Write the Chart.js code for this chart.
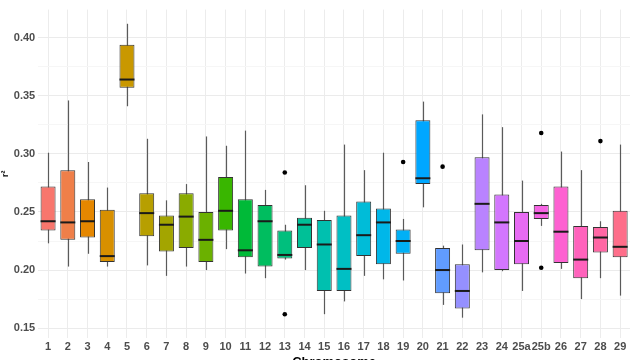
<!DOCTYPE html>
<html lang="en">
<head>
<meta charset="UTF-8">
<title>r2 by chromosome</title>
<script src="https://cdn.jsdelivr.net/npm/chart.js"></script>
<style>
  html, body { margin: 0; padding: 0; background: #fff; overflow: hidden; }
  #wrap { width: 634px; height: 369px; }
</style>
</head>
<body>
<div id="wrap"><canvas id="box"></canvas></div>
<script>
const chromosomes = ['1','2','3','4','5','6','7','8','9','10','11','12','13','14','15','16','17','18','19','20','21','22','23','24','25a','25b','26','27','28','29'];
const whiskerLow  = [0.223,0.203,0.214,0.203,0.341,0.204,0.195,0.203,0.200,0.218,0.197,0.193,0.209,0.200,0.162,0.173,0.195,0.192,0.191,0.254,0.170,0.159,0.198,0.199,0.182,0.238,0.201,0.175,0.193,0.178];
const q1          = [0.234,0.226,0.228,0.207,0.357,0.229,0.216,0.219,0.207,0.234,0.211,0.203,0.210,0.219,0.182,0.182,0.212,0.205,0.214,0.274,0.180,0.167,0.217,0.200,0.205,0.244,0.206,0.193,0.215,0.211];
const median      = [0.242,0.241,0.242,0.212,0.364,0.249,0.239,0.246,0.226,0.251,0.217,0.242,0.213,0.239,0.222,0.201,0.230,0.241,0.225,0.279,0.200,0.182,0.257,0.241,0.225,0.249,0.233,0.209,0.228,0.220];
const q3          = [0.272,0.286,0.261,0.252,0.394,0.266,0.247,0.266,0.250,0.280,0.261,0.256,0.234,0.245,0.243,0.247,0.259,0.253,0.235,0.329,0.219,0.205,0.297,0.265,0.250,0.256,0.272,0.238,0.237,0.251];
const whiskerHigh = [0.301,0.346,0.293,0.271,0.412,0.313,0.260,0.274,0.315,0.307,0.320,0.269,0.239,0.273,0.251,0.308,0.286,0.301,0.244,0.345,0.221,0.222,0.334,0.323,0.277,0.257,0.302,0.286,0.242,0.308];
const outliers = [
  { x: '13', y: 0.284 }, { x: '13', y: 0.162 },
  { x: '19', y: 0.293 }, { x: '21', y: 0.289 },
  { x: '25b', y: 0.318 }, { x: '25b', y: 0.202 },
  { x: '28', y: 0.311 }
];
const yTicks = [0.15, 0.175, 0.20, 0.225, 0.25, 0.275, 0.30, 0.325, 0.35, 0.375, 0.40];

// ggplot2 default hue palette
function hcl(h, c, l) {
  const hr = h * Math.PI / 180;
  const u = c * Math.cos(hr), v = c * Math.sin(hr);
  const Y = l > 8 ? Math.pow((l + 16) / 116, 3) : l / 903.3;
  const un = 0.19784, vn = 0.46834;
  const up = u / (13 * l) + un, vp = v / (13 * l) + vn;
  const X = Y * 9 * up / (4 * vp);
  const Z = Y * (12 - 3 * up - 20 * vp) / (4 * vp);
  const lin = [
    3.2406 * X - 1.5372 * Y - 0.4986 * Z,
    -0.9689 * X + 1.8758 * Y + 0.0415 * Z,
    0.0557 * X - 0.2040 * Y + 1.0570 * Z
  ];
  const rgb = lin.map(a => {
    const g = a <= 0.0031308 ? 12.92 * a : 1.055 * Math.pow(a, 1 / 2.4) - 0.055;
    return Math.round(Math.min(1, Math.max(0, g)) * 255);
  });
  return `rgb(${rgb[0]}, ${rgb[1]}, ${rgb[2]})`;
}
const n = chromosomes.length;
const fills = chromosomes.map((c, i) => hcl(15 + 360 * i / n, 100, 65));

const boxExtras = {
  id: 'boxExtras',
  beforeDatasetsDraw(chart) {
    const { ctx, scales: { x, y } } = chart;
    ctx.save();
    ctx.strokeStyle = '#5a5a5a';
    ctx.lineWidth = 1.2;
    chromosomes.forEach((c, i) => {
      const px = Math.round(x.getPixelForValue(i)) + 0.5;
      ctx.beginPath();
      ctx.moveTo(px, y.getPixelForValue(whiskerLow[i]));
      ctx.lineTo(px, y.getPixelForValue(whiskerHigh[i]));
      ctx.stroke();
    });
    ctx.restore();
  },
  afterDatasetsDraw(chart) {
    const { ctx, scales: { y } } = chart;
    const bars = chart.getDatasetMeta(0).data;
    ctx.save();
    ctx.strokeStyle = '#1a1a1a';
    ctx.lineWidth = 2;
    bars.forEach((bar, i) => {
      const py = y.getPixelForValue(median[i]);
      ctx.beginPath();
      ctx.moveTo(bar.x - bar.width / 2, py);
      ctx.lineTo(bar.x + bar.width / 2, py);
      ctx.stroke();
    });
    ctx.restore();
  }
};

const ctx = document.getElementById('box').getContext('2d');
new Chart(ctx, {
  type: 'bar',
  data: {
    labels: chromosomes,
    datasets: [{
      label: 'box',
      data: chromosomes.map((c, i) => [q1[i], q3[i]]),
      backgroundColor: fills,
      borderColor: '#333333',
      borderWidth: 1,
      borderSkipped: false,
      categoryPercentage: 1,
      barPercentage: 0.76,
      order: 1
    }, {
      type: 'line',
      label: 'outliers',
      data: outliers,
      showLine: false,
      pointRadius: 2.3,
      pointBackgroundColor: '#000',
      pointBorderWidth: 0,
      order: 0
    }]
  },
  options: {
    responsive: true,
    maintainAspectRatio: false,
    animation: false,
    layout: { padding: { top: 0, right: 4, left: 0, bottom: 0 } },
    plugins: { legend: { display: false }, tooltip: { enabled: false } },
    scales: {
      x: {
        offset: true,
        grid: { offset: false, color: '#ececec', drawTicks: false },
        border: { display: false },
        ticks: { color: '#4d4d4d', font: { family: 'Liberation Sans', size: 11, weight: 'bold', lineHeight: 1 }, padding: 3, maxRotation: 0, autoSkip: false },
        title: { display: true, text: 'Chromosome', color: '#000', font: { family: 'Liberation Sans', size: 13, weight: 'bold', lineHeight: 1 }, padding: { top: 1, bottom: 0 } }
      },
      y: {
        min: 0.1415,
        max: 0.4242,
        afterBuildTicks: axis => { axis.ticks = yTicks.map(v => ({ value: v })); },
        grid: {
          drawTicks: false,
          color: c => (Math.round(c.tick.value * 1000) % 50 === 0 ? '#ebebeb' : '#f6f6f6')
        },
        border: { display: false },
        ticks: {
          color: '#4d4d4d',
          font: { family: 'Liberation Sans', size: 11, weight: 'bold' },
          padding: 3,
          callback: v => (Math.round(v * 1000) % 50 === 0 ? v.toFixed(2) : '')
        },
        title: { display: true, text: 'r²', color: '#000', font: { family: 'Liberation Sans', size: 9, weight: 'bold' }, padding: { top: 0, bottom: 0 } }
      }
    }
  },
  plugins: [boxExtras]
});
</script>
</body>
</html>
